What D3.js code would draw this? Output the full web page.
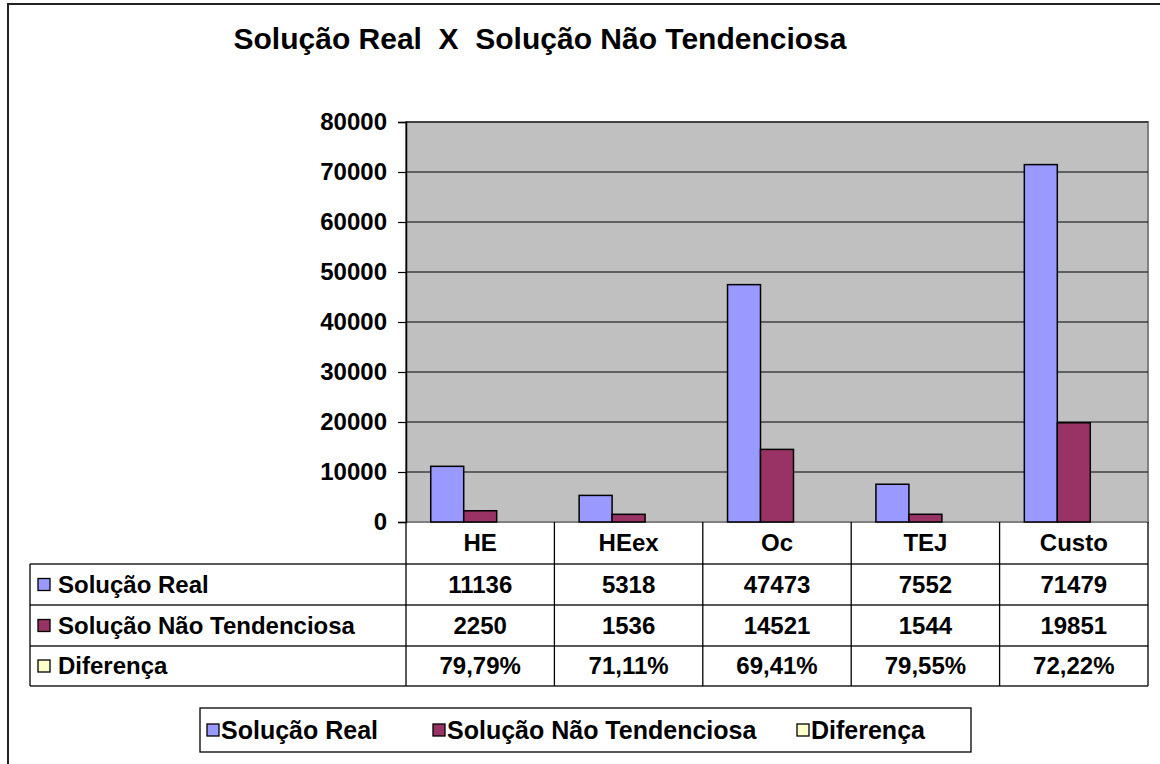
<!DOCTYPE html>
<html>
<head>
<meta charset="utf-8">
<script src="https://cdn.jsdelivr.net/npm/d3@7"></script>
<style>
  body { margin: 0; background: #fff; }
  svg text { font-family: "Liberation Sans", Arial, sans-serif; font-weight: bold; fill: #000; }
</style>
</head>
<body>
<div id="chart"></div>
<script>
// data
const categories = ["HE", "HEex", "Oc", "TEJ", "Custo"];
const seriesNames = ["Solução Real", "Solução Não Tendenciosa", "Diferença"];
const solucaoReal = [11136, 5318, 47473, 7552, 71479];
const solucaoNaoTend = [2250, 1536, 14521, 1544, 19851];
const diferenca = [0.7979, 0.7111, 0.6941, 0.7955, 0.7222];
const yTicks = [0, 10000, 20000, 30000, 40000, 50000, 60000, 70000, 80000];
const seriesColors = ["#9999FF", "#993366", "#FFFFCC"];

const width = 1160, height = 764;

const svg = d3.select("#chart").append("svg")
  .attr("width", width)
  .attr("height", height);

// outer chart frame (runs off the right / bottom edge)
svg.append("rect")
  .attr("x", 8).attr("y", 4)
  .attr("width", 1170).attr("height", 780)
  .attr("fill", "none")
  .attr("stroke", "#222")
  .attr("stroke-width", 2);

// title
svg.append("text")
  .attr("x", 540).attr("y", 49)
  .attr("text-anchor", "middle")
  .style("font-size", "30px")
  .style("white-space", "pre")
  .attr("xml:space", "preserve")
  .text("Solução Real  X  Solução Não Tendenciosa");

// plot area
const plot = { left: 406, right: 1148, top: 122, bottom: 522 };

const x0 = d3.scaleBand()
  .domain(categories)
  .range([plot.left, plot.right]);

const x1 = d3.scaleBand()
  .domain(seriesNames)
  .range([0, x0.bandwidth()])
  .paddingInner(0)
  .paddingOuter(0.75);

const y = d3.scaleLinear()
  .domain([0, 80000])
  .range([plot.bottom, plot.top]);

svg.append("rect")
  .attr("x", plot.left).attr("y", plot.top)
  .attr("width", plot.right - plot.left)
  .attr("height", plot.bottom - plot.top)
  .attr("fill", "#C0C0C0")
  .attr("stroke", "#808080")
  .attr("stroke-width", 2);

// gridlines
svg.append("g")
  .selectAll("line")
  .data(yTicks.filter(d => d > 0))
  .join("line")
  .attr("x1", plot.left).attr("x2", plot.right)
  .attr("y1", d => y(d)).attr("y2", d => y(d))
  .attr("stroke", "#000")
  .attr("stroke-width", 1.2);

// y axis
const yAxis = svg.append("g")
  .attr("transform", `translate(${plot.left},0)`)
  .call(d3.axisLeft(y).tickValues(yTicks).tickSize(8).tickPadding(11).tickFormat(d3.format("d")));
yAxis.select(".domain").attr("stroke", "#000").attr("stroke-width", 1.5);
yAxis.selectAll(".tick line").attr("stroke", "#000").attr("stroke-width", 1.2);
yAxis.selectAll("text")
  .style("font-size", "24px")
  .style("font-family", "'Liberation Sans', Arial, sans-serif")
  .style("font-weight", "bold")
  .attr("fill", "#000");

// bars
const seriesData = [solucaoReal, solucaoNaoTend, diferenca];
seriesData.forEach((vals, s) => {
  svg.append("g")
    .selectAll("rect")
    .data(vals)
    .join("rect")
    .attr("x", (d, i) => x0(categories[i]) + x1(seriesNames[s]))
    .attr("width", x1.bandwidth())
    .attr("y", d => y(d))
    .attr("height", d => y(0) - y(d))
    .attr("fill", seriesColors[s])
    .attr("stroke", "#000")
    .attr("stroke-width", s == 2 ? 0 : 1.5);
});

// data table under the axis
const rowEdges = [522, 564, 605, 646, 686];
const tableLeft = 30;
const fmtPct = d => d3.format(".2f")(d * 100).replace(".", ",") + "%";
const rowText = [
  solucaoReal.map(d => String(d)),
  solucaoNaoTend.map(d => String(d)),
  diferenca.map(fmtPct)
];

const table = svg.append("g");

// horizontal rules
table.selectAll("line.h")
  .data(rowEdges.slice(1))
  .join("line")
  .attr("x1", tableLeft).attr("x2", plot.right)
  .attr("y1", d => d).attr("y2", d => d)
  .attr("stroke", "#222").attr("stroke-width", 1.3);

// vertical rules
const colEdges = categories.map(c => x0(c)).concat([plot.right]);
table.selectAll("line.v")
  .data(colEdges)
  .join("line")
  .attr("x1", d => d).attr("x2", d => d)
  .attr("y1", rowEdges[0]).attr("y2", rowEdges[4])
  .attr("stroke", "#000").attr("stroke-width", 1.3);

table.append("line")
  .attr("x1", tableLeft).attr("x2", tableLeft)
  .attr("y1", rowEdges[1]).attr("y2", rowEdges[4])
  .attr("stroke", "#000").attr("stroke-width", 1.3);

// category header
table.selectAll("text.cat")
  .data(categories)
  .join("text")
  .attr("x", d => x0(d) + x0.bandwidth() / 2)
  .attr("y", (rowEdges[0] + rowEdges[1]) / 2 + 8)
  .attr("text-anchor", "middle")
  .style("font-size", "24px")
  .text(d => d);

// series rows
rowText.forEach((vals, r) => {
  const cy = (rowEdges[r + 1] + rowEdges[r + 2]) / 2;
  table.append("rect")
    .attr("x", 38).attr("y", cy - 6)
    .attr("width", 12).attr("height", 12)
    .attr("fill", seriesColors[r])
    .attr("stroke", "#000").attr("stroke-width", 1.3);
  table.append("text")
    .attr("x", 58).attr("y", cy + 8)
    .style("font-size", "24px")
    .text(seriesNames[r]);
  table.selectAll(null)
    .data(vals)
    .join("text")
    .attr("x", (d, i) => x0(categories[i]) + x0.bandwidth() / 2)
    .attr("y", cy + 8)
    .attr("text-anchor", "middle")
    .style("font-size", "24px")
    .text(d => d);
});

// legend
const legend = svg.append("g");
legend.append("rect")
  .attr("x", 200).attr("y", 708)
  .attr("width", 771).attr("height", 44)
  .attr("fill", "#fff")
  .attr("stroke", "#000").attr("stroke-width", 1.3);

const legendX = [207, 433, 797];
seriesNames.forEach((name, i) => {
  legend.append("rect")
    .attr("x", legendX[i]).attr("y", 724)
    .attr("width", 12).attr("height", 12)
    .attr("fill", seriesColors[i])
    .attr("stroke", "#000").attr("stroke-width", 1.3);
  legend.append("text")
    .attr("x", legendX[i] + 14).attr("y", 739)
    .style("font-size", "25px")
    .text(name);
});
</script>
</body>
</html>
